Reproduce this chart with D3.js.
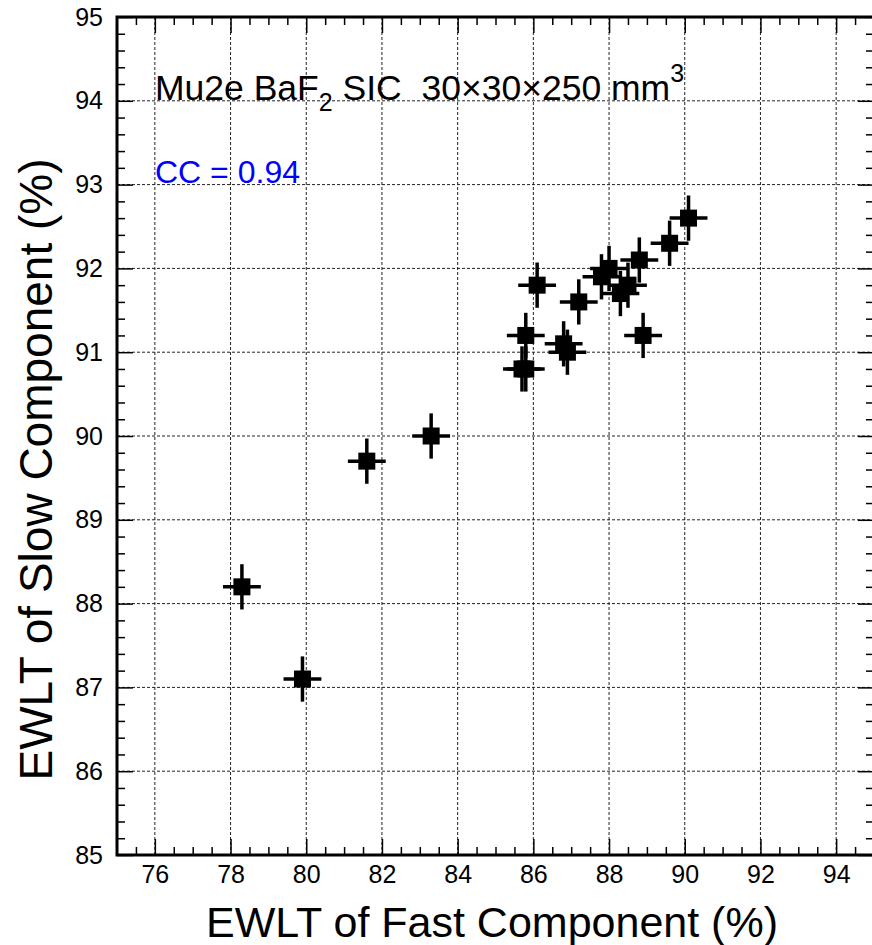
<!DOCTYPE html>
<html>
<head>
<meta charset="utf-8">
<script src="https://cdn.jsdelivr.net/npm/d3@7"></script>
<style>
  body { margin: 0; background: #fff; }
  text { font-family: "Liberation Sans", Arial, sans-serif; }
</style>
</head>
<body>
<script>
// Chart data: EWLT of fast vs slow component (%)
const fastVals = [78.3, 79.9, 81.6, 83.3, 85.7, 85.8, 85.8, 86.1, 86.8, 86.9, 87.2, 87.8, 88.0, 88.3, 88.5, 88.8, 88.9, 89.6, 90.1];
const slowVals = [88.2, 87.1, 89.7, 90.0, 90.8, 90.8, 91.2, 91.8, 91.1, 91.0, 91.6, 91.9, 92.0, 91.7, 91.8, 92.1, 91.2, 92.3, 92.6];
const fastErr = fastVals.map(() => 0.5);
const slowErr = slowVals.map(() => 0.27);

const xMajor = [76, 78, 80, 82, 84, 86, 88, 90, 92, 94];
const yMajor = [85, 86, 87, 88, 89, 90, 91, 92, 93, 94, 95];
const xMinor = d3.range(75.5, 95, 0.5).filter(v => Math.abs(v % 2) > 0.01);
const yMinor = d3.range(85.2, 95, 0.2).filter(v => Math.abs(v - Math.round(v)) > 0.01);

const xTitle = "EWLT of Fast Component (%)";
const yTitle = "EWLT of Slow Component (%)";
const ccLabel = "CC = 0.94";

// SVG dimensions
const width = 872, height = 945;
const padL = 117, padR = 874, padT = 17, padB = 855;

const svg = d3.select("body").append("svg")
    .attr("width", width)
    .attr("height", height);

const x = d3.scaleLinear().domain([75, 95]).range([padL, padR]);
const y = d3.scaleLinear().domain([85, 95]).range([padB, padT]);

// Grid lines (dotted)
const grid = svg.append("g")
    .attr("stroke", "#222")
    .attr("stroke-width", 1)
    .attr("stroke-dasharray", "3,2");
grid.selectAll(".gx").data(xMajor).join("line")
    .attr("x1", d => x(d)).attr("x2", d => x(d))
    .attr("y1", padT).attr("y2", padB);
grid.selectAll(".gy").data(yMajor.filter(d => d > 85 && d < 95)).join("line")
    .attr("y1", d => y(d)).attr("y2", d => y(d))
    .attr("x1", padL).attr("x2", padR);

// Axes with inward ticks
function styleAxis(g) {
    g.select(".domain").remove();
    g.selectAll(".tick line").attr("stroke", "#000").attr("stroke-width", 1.5);
    g.selectAll(".tick text")
        .attr("font-size", 25)
        .attr("fill", "#000");
}

svg.append("g")
    .attr("transform", `translate(0,${padB})`)
    .call(d3.axisBottom(x).tickValues(xMajor).tickSize(-16).tickPadding(10).tickFormat(d3.format("d")))
    .call(styleAxis);
svg.append("g")
    .attr("transform", `translate(0,${padB})`)
    .call(d3.axisBottom(x).tickValues(xMinor).tickSize(-8).tickFormat(""))
    .call(styleAxis);
svg.append("g")
    .attr("transform", `translate(0,${padT})`)
    .call(d3.axisTop(x).tickValues(xMajor).tickSize(-16).tickFormat(""))
    .call(styleAxis);
svg.append("g")
    .attr("transform", `translate(0,${padT})`)
    .call(d3.axisTop(x).tickValues(xMinor).tickSize(-8).tickFormat(""))
    .call(styleAxis);

svg.append("g")
    .attr("transform", `translate(${padL},0)`)
    .call(d3.axisLeft(y).tickValues(yMajor).tickSize(-16).tickPadding(14).tickFormat(d3.format("d")))
    .call(styleAxis);
svg.append("g")
    .attr("transform", `translate(${padL},0)`)
    .call(d3.axisLeft(y).tickValues(yMinor).tickSize(-8).tickFormat(""))
    .call(styleAxis);
svg.append("g")
    .attr("transform", `translate(${padR},0)`)
    .call(d3.axisRight(y).tickValues(yMajor).tickSize(-16).tickFormat(""))
    .call(styleAxis);
svg.append("g")
    .attr("transform", `translate(${padR},0)`)
    .call(d3.axisRight(y).tickValues(yMinor).tickSize(-8).tickFormat(""))
    .call(styleAxis);

// Frame
svg.append("rect")
    .attr("x", padL).attr("y", padT)
    .attr("width", padR - padL).attr("height", padB - padT)
    .attr("fill", "none")
    .attr("stroke", "#000")
    .attr("stroke-width", 3);

// Data points with error bars
const points = fastVals.map((v, i) => ({x: v, y: slowVals[i], ex: fastErr[i], ey: slowErr[i]}));
const marks = svg.append("g");
marks.selectAll(".ex").data(points).join("line")
    .attr("x1", d => x(d.x - d.ex)).attr("x2", d => x(d.x + d.ex))
    .attr("y1", d => y(d.y)).attr("y2", d => y(d.y))
    .attr("stroke", "#000").attr("stroke-width", 3.5);
marks.selectAll(".ey").data(points).join("line")
    .attr("x1", d => x(d.x)).attr("x2", d => x(d.x))
    .attr("y1", d => y(d.y - d.ey)).attr("y2", d => y(d.y + d.ey))
    .attr("stroke", "#000").attr("stroke-width", 3.5);
marks.selectAll("rect").data(points).join("rect")
    .attr("x", d => x(d.x) - 8.5).attr("y", d => y(d.y) - 8.5)
    .attr("width", 17).attr("height", 17)
    .attr("fill", "#000");

// Annotation text
const label = svg.append("text")
    .attr("x", 155).attr("y", 100)
    .attr("font-size", 35.5)
    .attr("fill", "#000");
label.append("tspan").text("Mu2e BaF");
label.append("tspan").attr("font-size", 25).attr("dy", 11).text("2");
label.append("tspan").attr("dy", -11).text(" SIC\u00a0\u00a030\u00d730\u00d7250 mm");
label.append("tspan").attr("font-size", 25).attr("dy", -18).text("3");

svg.append("text")
    .attr("x", 155).attr("y", 183)
    .attr("font-size", 32)
    .attr("fill", "#0000ff")
    .text(ccLabel);

// Axis titles
svg.append("text")
    .attr("x", 778).attr("y", 937)
    .attr("text-anchor", "end")
    .attr("font-size", 43)
    .attr("fill", "#000")
    .text(xTitle);

svg.append("text")
    .attr("transform", `translate(52,${y(89.6)}) rotate(-90)`)
    .attr("text-anchor", "middle")
    .attr("font-size", 46)
    .attr("fill", "#000")
    .text(yTitle);
</script>
</body>
</html>
